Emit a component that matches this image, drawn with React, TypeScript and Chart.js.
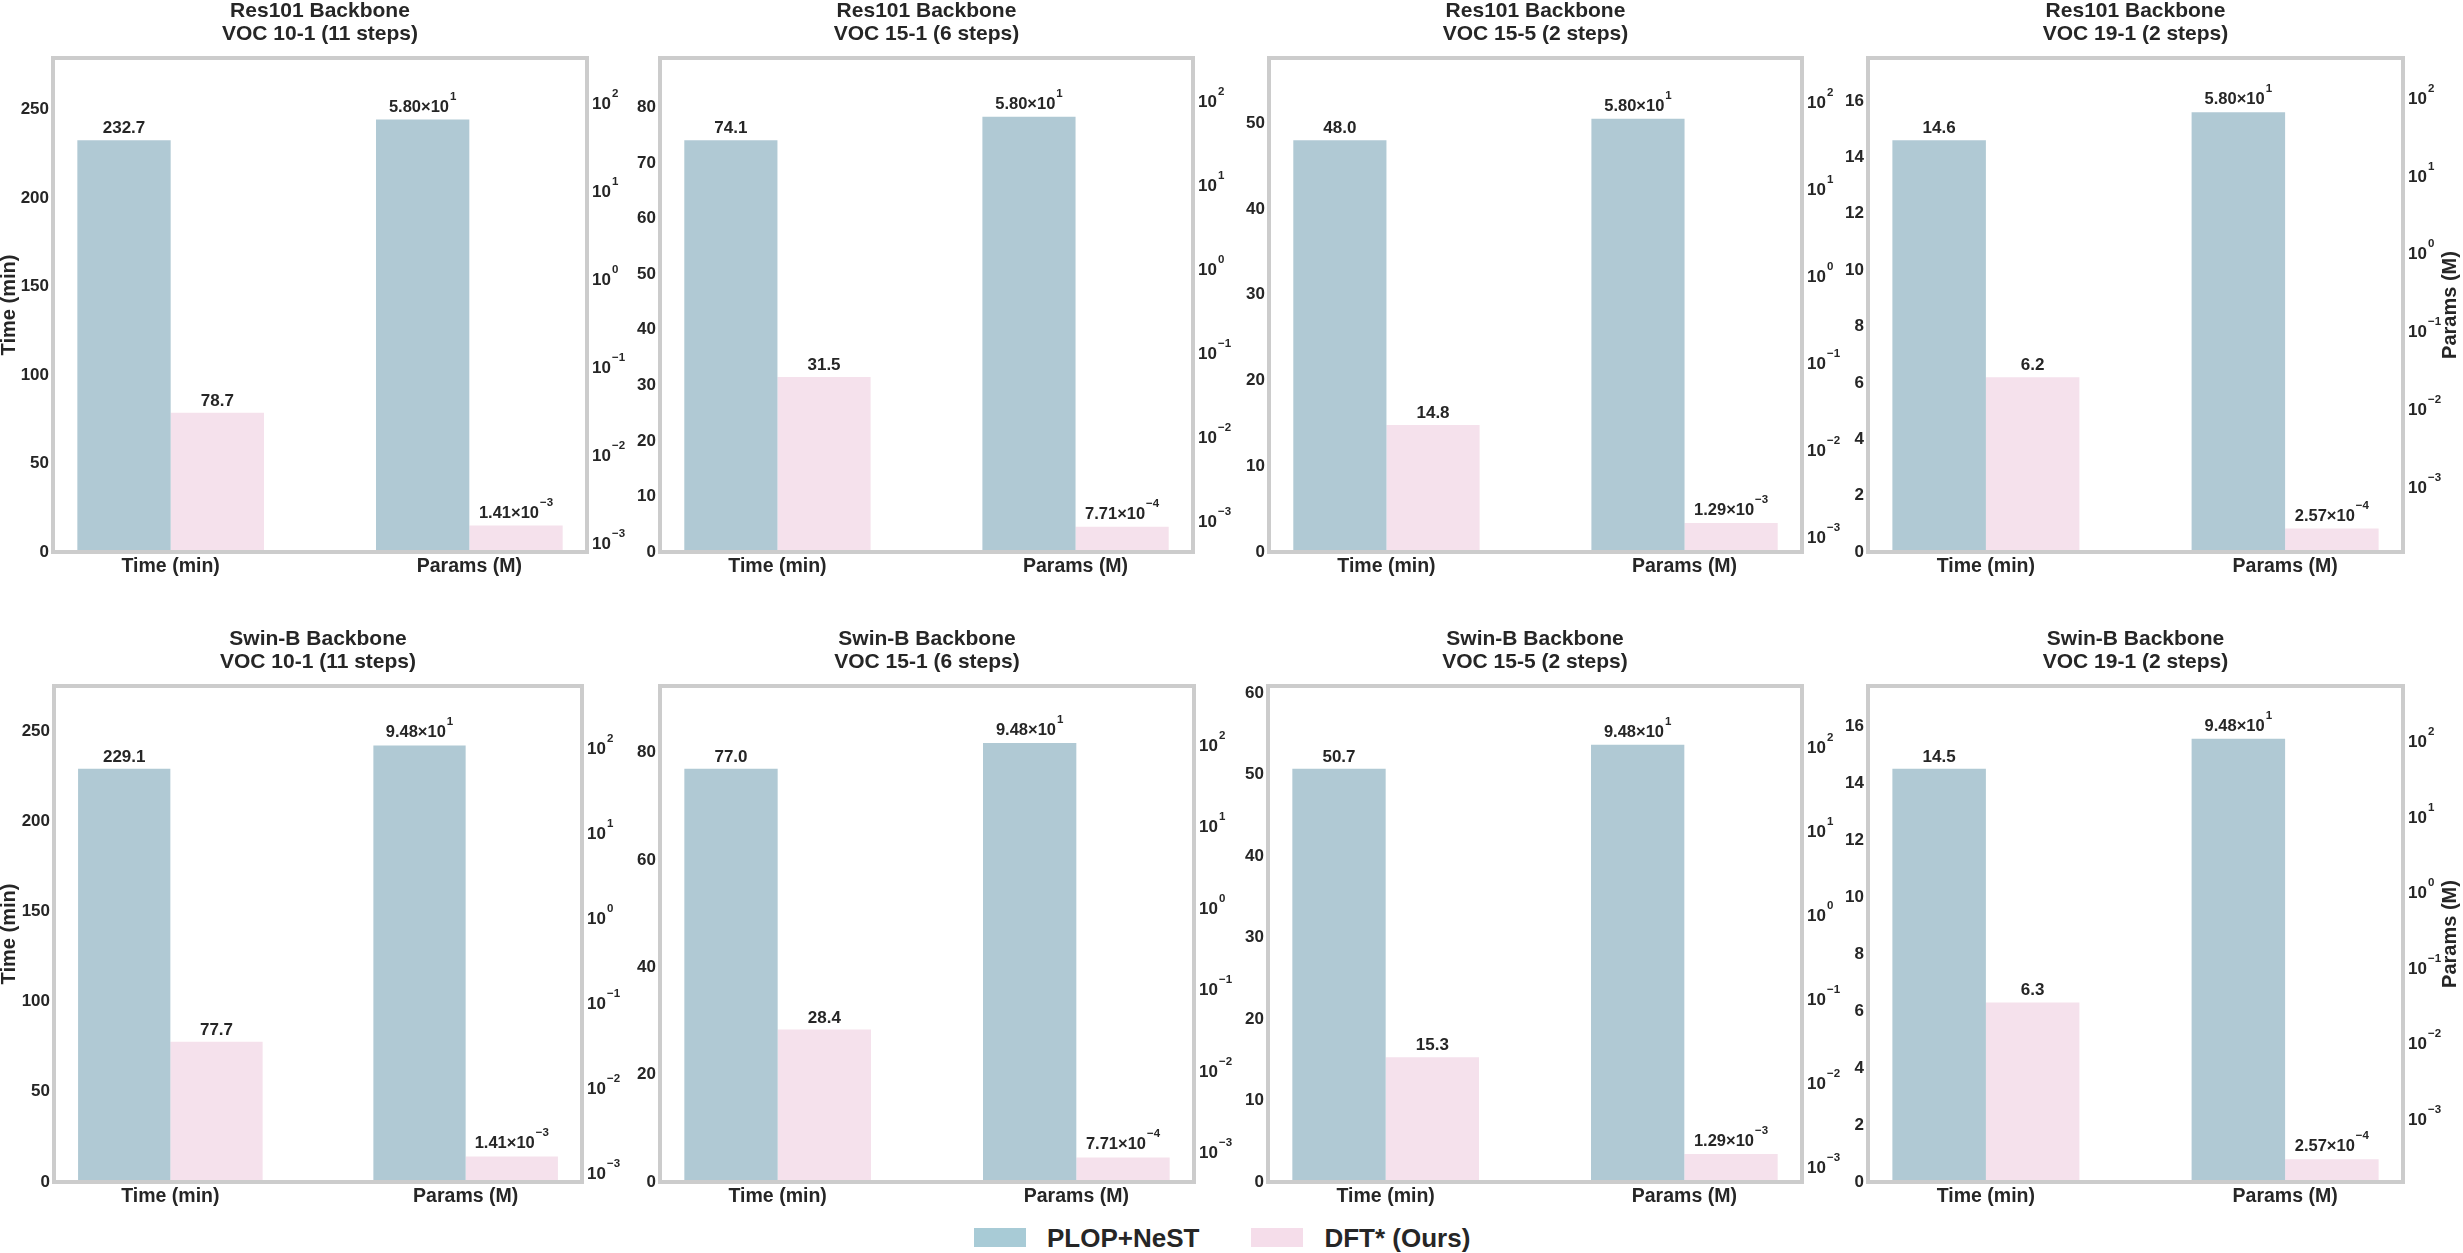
import React, { useEffect, useRef } from 'react';
import { Chart, registerables } from 'chart.js';

Chart.register(...registerables);

// ---------------- data ----------------
const backbones = ['Res101 Backbone', 'Swin-B Backbone'];
const settings = ['VOC 10-1 (11 steps)', 'VOC 15-1 (6 steps)', 'VOC 15-5 (2 steps)', 'VOC 19-1 (2 steps)'];
const categories = ['Time (min)', 'Params (M)'];
const seriesNames = ['PLOP+NeST', 'DFT* (Ours)'];
const plopTime = [232.7, 74.1, 48.0, 14.6, 229.1, 77.0, 50.7, 14.5];
const dftTime = [78.7, 31.5, 14.8, 6.2, 77.7, 28.4, 15.3, 6.3];
const plopParams = [58.0, 58.0, 58.0, 58.0, 94.8, 94.8, 94.8, 94.8];
const dftParams = [1.41e-3, 7.71e-4, 1.29e-3, 2.57e-4, 1.41e-3, 7.71e-4, 1.29e-3, 2.57e-4];
const timeTickSteps = [50, 10, 10, 2, 50, 20, 10, 2];
const leftAxisTitle = 'Time (min)';
const rightAxisTitle = 'Params (M)';

// ---------------- styles / layout ----------------
const FONT = '"Liberation Sans", Arial, Helvetica, sans-serif';
const TEXT = '#262626';
const FRAME = '#cccccc';
const PLOP_COLOR = '#b0c9d4';
const DFT_COLOR = '#f5e1ec';
const PLOP_LEGEND = '#a8cbd6';
const DFT_LEGEND = '#f5ddea';

const ROWS = [
  { top: 0, height: 600, frameTop: 58, frameBottom: 552 },
  { top: 620, height: 600, frameTop: 686, frameBottom: 1182 },
];
const COLS = [
  { left: 0, width: 640, frameLeft: [53, 54], frameRight: [587, 582] },
  { left: 615, width: 630, frameLeft: [660, 660], frameRight: [1193, 1194] },
  { left: 1225, width: 625, frameLeft: [1269, 1268], frameRight: [1802, 1802] },
  { left: 1825, width: 638, frameLeft: [1868, 1868], frameRight: [2403, 2403] },
];
const X_PAD = 0.394; // matplotlib-like x margins around the two groups

function expString(k: number) {
  return k < 0 ? '\u2212' + Math.abs(k) : String(k);
}

function sciParts(v: number) {
  let e = Math.floor(Math.log10(v));
  let m = v / Math.pow(10, e);
  if (Number(m.toFixed(2)) >= 10) {
    e += 1;
    m = v / Math.pow(10, e);
  }
  return { mant: m.toFixed(2) + '\u00d710', exp: expString(e) };
}

function drawSci(ctx: CanvasRenderingContext2D, cx: number, baseline: number, mant: string, exp: string, baseSize: number, expSize: number, raise: number) {
  const fBase = `bold ${baseSize}px ${FONT}`;
  const fExp = `bold ${expSize}px ${FONT}`;
  ctx.font = fBase;
  const wb = ctx.measureText(mant).width;
  ctx.font = fExp;
  const we = ctx.measureText(exp).width;
  const x0 = cx - (wb + 1 + we) / 2;
  ctx.textAlign = 'left';
  ctx.textBaseline = 'alphabetic';
  ctx.font = fBase;
  ctx.fillText(mant, x0, baseline);
  ctx.font = fExp;
  ctx.fillText(exp, x0 + wb + 1, baseline - raise);
}

const decorPlugin = {
  id: 'decor',
  afterDatasetsDraw(chart: any, _args: any, opts: any) {
    const { ctx, chartArea: ca } = chart;
    ctx.save();
    // frame (spines)
    ctx.strokeStyle = FRAME;
    ctx.lineWidth = 4;
    ctx.strokeRect(ca.left, ca.top, ca.right - ca.left, ca.bottom - ca.top);

    ctx.fillStyle = TEXT;
    // two-line title
    const cx = (ca.left + ca.right) / 2;
    ctx.textAlign = 'center';
    ctx.textBaseline = 'middle';
    ctx.font = `bold 21px ${FONT}`;
    ctx.fillText(opts.title[0], cx, ca.top - 47);
    ctx.fillText(opts.title[1], cx, ca.top - 24);

    // value labels
    chart.data.datasets.forEach((ds: any, di: number) => {
      const meta = chart.getDatasetMeta(di);
      meta.data.forEach((el: any, j: number) => {
        const raw = ds.data[j];
        if (!raw || raw.y == null) return;
        const v = raw.y as number;
        const { x, y } = el.getProps(['x', 'y'], true);
        if (ds.labelStyle === 'plain') {
          ctx.font = `bold 17px ${FONT}`;
          ctx.textAlign = 'center';
          ctx.textBaseline = 'alphabetic';
          ctx.fillText(v.toFixed(1), x, y - 7);
        } else {
          const p = sciParts(v);
          drawSci(ctx, x, y - 8, p.mant, p.exp, 16.5, 11.5, 12);
        }
      });
    });

    // log-scale tick labels (10^k)
    const y2 = chart.scales.y2;
    const kMin = Math.ceil(Math.log10(y2.min) - 1e-9);
    const kMax = Math.floor(Math.log10(y2.max) + 1e-9);
    for (let k = kMin; k <= kMax; k++) {
      const py = y2.getPixelForValue(Math.pow(10, k));
      const x0 = ca.right + 5;
      ctx.textAlign = 'left';
      ctx.textBaseline = 'alphabetic';
      ctx.font = `bold 17px ${FONT}`;
      ctx.fillText('10', x0, py + 10);
      const w = ctx.measureText('10').width;
      ctx.font = `bold 11.5px ${FONT}`;
      ctx.fillText(expString(k), x0 + w + 1, py - 2);
    }

    // axis titles
    const midY = (ca.top + ca.bottom) / 2;
    ctx.font = `bold 20px ${FONT}`;
    ctx.textAlign = 'center';
    ctx.textBaseline = 'middle';
    if (opts.leftTitle) {
      ctx.save();
      ctx.translate(opts.leftTitleX, midY);
      ctx.rotate(-Math.PI / 2);
      ctx.fillText(opts.leftTitle, 0, 0);
      ctx.restore();
    }
    if (opts.rightTitle) {
      ctx.save();
      ctx.translate(opts.rightTitleX, midY);
      ctx.rotate(-Math.PI / 2);
      ctx.fillText(opts.rightTitle, 0, 0);
      ctx.restore();
    }
    ctx.restore();
  },
};

function Panel({ index }: { index: number }) {
  const ref = useRef<HTMLCanvasElement | null>(null);
  const rowIdx = Math.floor(index / 4);
  const colIdx = index % 4;
  const row = ROWS[rowIdx];
  const col = COLS[colIdx];
  const frameLeft = col.frameLeft[rowIdx];
  const frameRight = col.frameRight[rowIdx];
  const Lw = frameLeft - col.left;
  const Rw = col.left + col.width - frameRight;
  const T = row.frameTop - row.top;
  const B = row.top + row.height - row.frameBottom;

  useEffect(() => {
    if (!ref.current) return;
    const tIdx = categories.indexOf('Time (min)');
    const pIdx = categories.indexOf('Params (M)');
    const tMax = Math.max(plopTime[index], dftTime[index]) * 1.2;
    const pMin = Math.min(plopParams[index], dftParams[index]) * 0.5;
    const pMax = Math.max(plopParams[index], dftParams[index]) * 5;
    const step = timeTickSteps[index];

    const chart = new Chart(ref.current, {
      type: 'bar',
      data: {
        datasets: [
          { label: seriesNames[0], yAxisID: 'y', labelStyle: 'plain', backgroundColor: PLOP_COLOR,
            data: [{ x: tIdx, y: plopTime[index] }, { x: pIdx, y: null }] },
          { label: seriesNames[1], yAxisID: 'y', labelStyle: 'plain', backgroundColor: DFT_COLOR,
            data: [{ x: tIdx, y: dftTime[index] }, { x: pIdx, y: null }] },
          { label: seriesNames[0], yAxisID: 'y2', labelStyle: 'sci', backgroundColor: PLOP_COLOR,
            data: [{ x: tIdx, y: null }, { x: pIdx, y: plopParams[index] }] },
          { label: seriesNames[1], yAxisID: 'y2', labelStyle: 'sci', backgroundColor: DFT_COLOR,
            data: [{ x: tIdx, y: null }, { x: pIdx, y: dftParams[index] }] },
        ] as any,
      },
      options: {
        animation: false,
        responsive: false,
        events: [],
        layout: { padding: { top: T, left: 0, right: 0, bottom: 0 } },
        datasets: {
          bar: { skipNull: true, categoryPercentage: 0.625, barPercentage: 1, borderWidth: 0 } as any,
        },
        plugins: {
          legend: { display: false },
          tooltip: { enabled: false },
          title: { display: false },
          decor: {
            title: [backbones[rowIdx], settings[colIdx]],
            leftTitle: colIdx === 0 ? leftAxisTitle : null,
            leftTitleX: 9,
            rightTitle: colIdx === 3 ? rightAxisTitle : null,
            rightTitleX: 2450 - col.left,
          },
        } as any,
        scales: {
          x: {
            type: 'linear',
            min: -X_PAD,
            max: categories.length - 1 + X_PAD,
            offset: false,
            grid: { display: false, drawTicks: false },
            border: { display: false },
            afterBuildTicks: (s: any) => {
              s.ticks = categories.map((_c, k) => ({ value: k }));
            },
            afterFit: (s: any) => { s.height = B; },
            ticks: {
              autoSkip: false,
              maxRotation: 0,
              minRotation: 0,
              padding: 3,
              color: TEXT,
              font: { family: FONT, size: 19.5, weight: 'bold' },
              callback: (v: any) => categories[Math.round(Number(v))] ?? '',
            },
          },
          y: {
            type: 'linear',
            position: 'left',
            min: 0,
            max: tMax,
            grid: { display: false, drawTicks: false },
            border: { display: false },
            afterBuildTicks: (s: any) => {
              const t: any[] = [];
              for (let v = 0; v <= tMax + 1e-9; v += step) t.push({ value: v });
              s.ticks = t;
            },
            afterFit: (s: any) => { s.width = Lw; },
            ticks: {
              padding: 4,
              color: TEXT,
              font: { family: FONT, size: 17, weight: 'bold' },
              callback: (v: any) => String(v),
            },
          },
          y2: {
            type: 'logarithmic',
            position: 'right',
            min: pMin,
            max: pMax,
            grid: { display: false, drawTicks: false },
            border: { display: false },
            ticks: { display: false },
            afterFit: (s: any) => { s.width = Rw; },
          },
        } as any,
      },
      plugins: [decorPlugin as any],
    });
    return () => chart.destroy();
  }, [index]);

  return (
    <div style={{ position: 'absolute', left: col.left, top: row.top, width: col.width, height: row.height }}>
      <canvas ref={ref} width={col.width} height={row.height} style={{ width: col.width, height: row.height, display: 'block' }} />
    </div>
  );
}

function Legend() {
  const text: React.CSSProperties = { font: `bold 26px ${FONT}`, color: TEXT, whiteSpace: 'nowrap', lineHeight: '26px' };
  return (
    <div style={{ position: 'absolute', left: 974, top: 1224, height: 27, display: 'flex', alignItems: 'center' }}>
      <div style={{ width: 52, height: 19, background: PLOP_LEGEND, marginRight: 21 }} />
      <span style={{ ...text, marginRight: 52 }}>{seriesNames[0]}</span>
      <div style={{ width: 52, height: 19, background: DFT_LEGEND, marginRight: 21 }} />
      <span style={text}>{seriesNames[1]}</span>
    </div>
  );
}

export default function App() {
  const panels = [0, 1, 2, 3, 4, 5, 6, 7];
  return (
    <div style={{ position: 'absolute', left: 0, top: 0, width: 2463, height: 1253, background: '#ffffff', overflow: 'hidden' }}>
      {panels.map((i) => <Panel key={i} index={i} />)}
      <Legend />
    </div>
  );
}
